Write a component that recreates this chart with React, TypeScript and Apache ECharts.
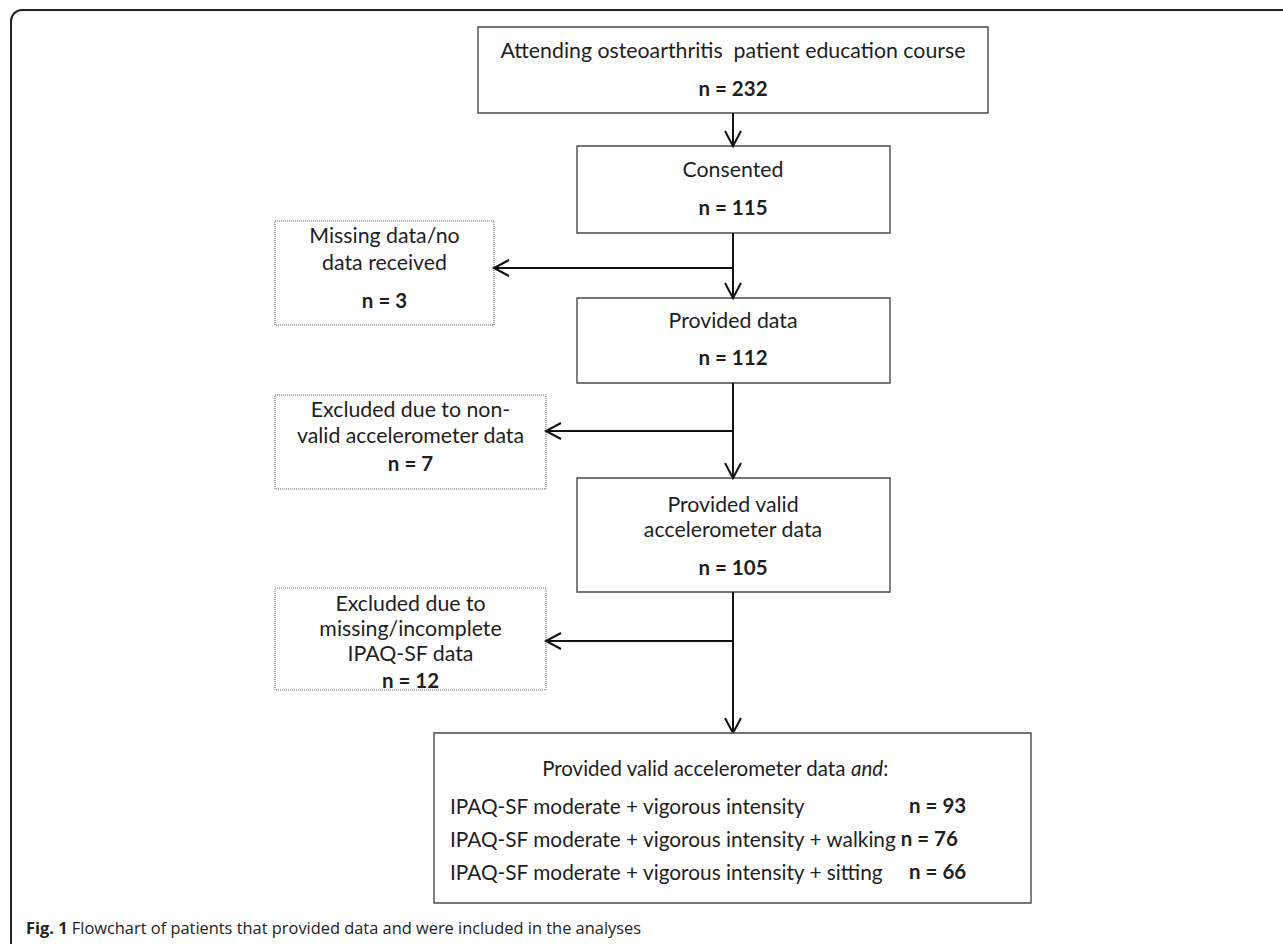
import React, { useEffect, useRef } from "react";
import * as echarts from "echarts";

// ---- content ----
const mainLabels: string[][] = [
  ["Attending osteoarthritis  patient education course"],
  ["Consented"],
  ["Provided data"],
  ["Provided valid", "accelerometer data"],
];
const mainCounts: number[] = [232, 115, 112, 105];

const sideLabels: string[][] = [
  ["Missing data/no", "data received"],
  ["Excluded due to non-", "valid accelerometer data"],
  ["Excluded due to", "missing/incomplete", "IPAQ-SF data"],
];
const sideCounts: number[] = [3, 7, 12];

const finalTitleMain = "Provided valid accelerometer data ";
const finalTitleItalic = "and";
const finalRows: string[] = [
  "IPAQ-SF moderate + vigorous intensity",
  "IPAQ-SF moderate + vigorous intensity + walking",
  "IPAQ-SF moderate + vigorous intensity + sitting",
];
const finalCounts: number[] = [93, 76, 66];

const captionBold = "Fig. 1";
const captionText = " Flowchart of patients that provided data and were included in the analyses";

// ---- layout ----
const CX = 733;
const mainBoxes = [
  { x: 478, y: 27, w: 510, h: 86, lines: [50], ny: 88 },
  { x: 577, y: 146, w: 313, h: 87, lines: [169], ny: 207 },
  { x: 577, y: 298, w: 313, h: 85, lines: [320], ny: 357 },
  { x: 577, y: 478, w: 313, h: 114, lines: [504, 529], ny: 567 },
];
const sideBoxes = [
  { x: 275, y: 221, w: 219, h: 104, lines: [235, 262], ny: 300, branchY: 268 },
  { x: 275, y: 395, w: 271, h: 94, lines: [409, 435], ny: 463, branchY: 431 },
  { x: 275, y: 588, w: 271, h: 102, lines: [603, 628, 653], ny: 680, branchY: 641 },
];
const finalBox = { x: 434, y: 733, w: 597, h: 170, titleY: 768, rowX: 450, rowY: [805, 838, 871], nX: 909 };

const FONT = "Lato, 'Open Sans', sans-serif";
const FS = 21.3;
const FS_N = 20.5;
const FS_TITLE = 20.5;
const FS_ROW = 20.8;
const TEXT = "#1e1e1e";
const BOX_STROKE = "#4a4a4a";
const ARROW = "#111";

function vArrow(x: number, y1: number, y2: number): any[] {
  return [
    { type: "line", shape: { x1: x, y1, x2: x, y2 }, style: { stroke: ARROW, lineWidth: 2 } },
    {
      type: "polyline",
      shape: { points: [[x - 8, y2 - 15], [x, y2], [x + 8, y2 - 15]] },
      style: { stroke: ARROW, lineWidth: 2, fill: "none" },
    },
  ];
}
function hArrowLeft(y: number, x1: number, x2: number): any[] {
  return [
    { type: "line", shape: { x1, y1: y, x2, y2: y }, style: { stroke: ARROW, lineWidth: 2 } },
    {
      type: "polyline",
      shape: { points: [[x2 + 15, y - 8], [x2, y], [x2 + 15, y + 8]] },
      style: { stroke: ARROW, lineWidth: 2, fill: "none" },
    },
  ];
}
function txt(text: string, x: number, y: number, opts: any = {}): any {
  return {
    type: "text",
    x,
    y,
    style: {
      text,
      fontSize: FS,
      fontFamily: FONT,
      fill: TEXT,
      align: "center",
      verticalAlign: "middle",
      ...opts,
    },
  };
}

export default function App() {
  const ref = useRef<HTMLDivElement>(null);
  useEffect(() => {
    document.body.style.margin = "0";
    const chart = echarts.init(ref.current!, null, { renderer: "svg" });
    const els: any[] = [];

    // outer frame (rounded top-left corner)
    els.push({
      type: "rect",
      shape: { x: 11, y: 10, width: 1400, height: 1100, r: [11, 0, 0, 0] },
      style: { fill: "none", stroke: "#222", lineWidth: 2 },
    });

    // main boxes
    mainBoxes.forEach((b, i) => {
      els.push({
        type: "rect",
        shape: { x: b.x, y: b.y, width: b.w, height: b.h },
        style: { fill: "#fff", stroke: BOX_STROKE, lineWidth: 1.4 },
      });
      mainLabels[i].forEach((l, j) => els.push(txt(l, CX, b.lines[j])));
      els.push(txt("n = " + mainCounts[i], CX, b.ny, { fontWeight: "bold", fontSize: FS_N }));
    });

    // side boxes
    sideBoxes.forEach((b, i) => {
      els.push({
        type: "rect",
        shape: { x: b.x, y: b.y, width: b.w, height: b.h },
        style: { fill: "#fff", stroke: "#666", lineWidth: 1, lineDash: [1, 1] },
      });
      const cx = b.x + b.w / 2;
      sideLabels[i].forEach((l, j) => els.push(txt(l, cx, b.lines[j])));
      els.push(txt("n = " + sideCounts[i], cx, b.ny, { fontWeight: "bold", fontSize: FS_N }));
    });

    // connectors
    els.push(...vArrow(CX, mainBoxes[0].y + mainBoxes[0].h, mainBoxes[1].y));
    els.push(...vArrow(CX, mainBoxes[1].y + mainBoxes[1].h, mainBoxes[2].y));
    els.push(...vArrow(CX, mainBoxes[2].y + mainBoxes[2].h, mainBoxes[3].y));
    els.push(...vArrow(CX, mainBoxes[3].y + mainBoxes[3].h, finalBox.y));
    sideBoxes.forEach((b) => els.push(...hArrowLeft(b.branchY, CX, b.x + b.w)));

    // final box
    els.push({
      type: "rect",
      shape: { x: finalBox.x, y: finalBox.y, width: finalBox.w, height: finalBox.h },
      style: { fill: "#fff", stroke: BOX_STROKE, lineWidth: 1.4 },
    });
    els.push({
      type: "text",
      x: CX - 18,
      y: finalBox.titleY,
      style: {
        text: "{a|" + finalTitleMain + "}{b|" + finalTitleItalic + "}{a|:}",
        align: "center",
        verticalAlign: "middle",
        rich: {
          a: { fontSize: FS_TITLE, fontFamily: FONT, fill: TEXT },
          b: { fontSize: FS_TITLE, fontFamily: FONT, fill: TEXT, fontStyle: "italic" },
        },
      },
    });
    finalRows.forEach((r, i) => {
      const y = finalBox.rowY[i];
      if (i === 1) {
        els.push({
          type: "text",
          x: finalBox.rowX,
          y,
          style: {
            text: "{a|" + r + "}{n|n = " + finalCounts[i] + "}",
            align: "left",
            verticalAlign: "middle",
            rich: {
              a: { fontSize: FS_ROW, fontFamily: FONT, fill: TEXT },
              n: { fontSize: FS_N, fontFamily: FONT, fill: TEXT, fontWeight: "bold", padding: [0, 0, 0, 3] },
            },
          },
        });
      } else {
        els.push(txt(r, finalBox.rowX, y, { align: "left", fontSize: FS_ROW }));
        els.push(txt("n = " + finalCounts[i], finalBox.nX, y, { align: "left", fontWeight: "bold", fontSize: FS_N }));
      }
    });

    // caption
    els.push({
      type: "text",
      x: 26,
      y: 927,
      style: {
        text: "{b|" + captionBold + "}{t|" + captionText + "}",
        align: "left",
        verticalAlign: "middle",
        rich: {
          b: { fontSize: 16.4, fontFamily: "'Open Sans', sans-serif", fontWeight: "bold", fill: "#222" },
          t: { fontSize: 16.4, fontFamily: "'Open Sans', sans-serif", fill: "#222" },
        },
      },
    });

    chart.setOption({ animation: false, backgroundColor: "#fff", graphic: { elements: els } });
    return () => chart.dispose();
  }, []);
  return <div ref={ref} style={{ width: 1283, height: 944 }} />;
}
